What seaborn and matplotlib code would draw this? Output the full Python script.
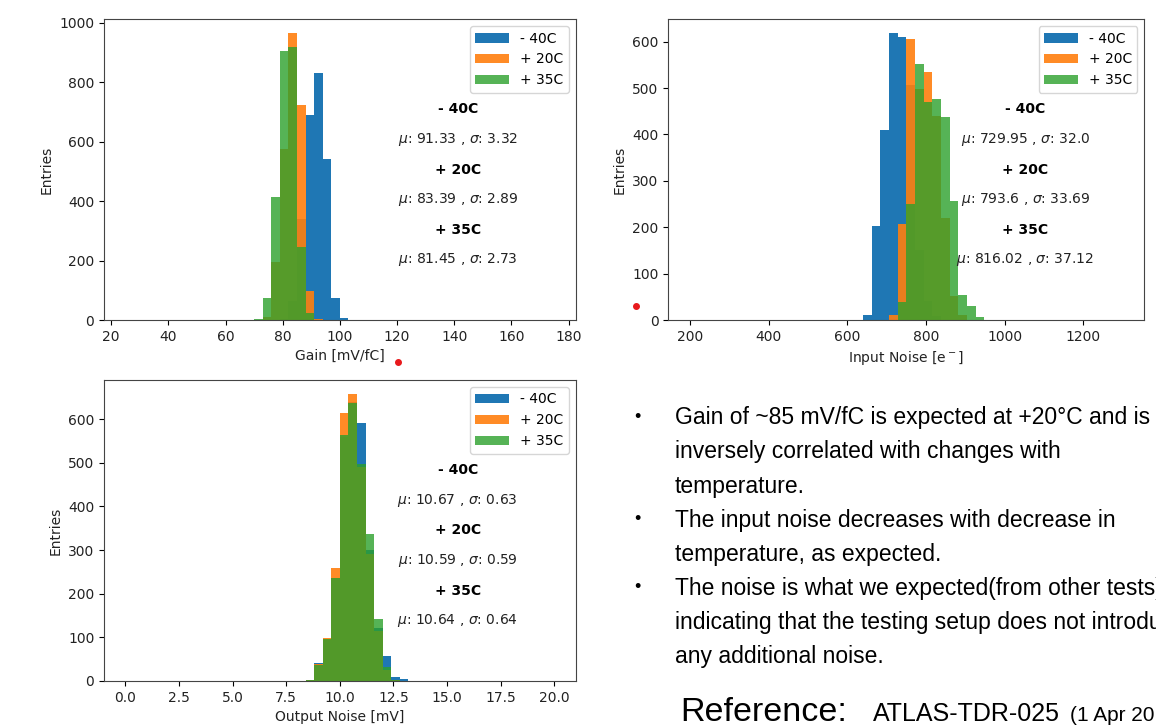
import numpy as np
import pandas as pd
import matplotlib
matplotlib.use("Agg")
import matplotlib.pyplot as plt
import seaborn as sns
from matplotlib.lines import Line2D

# ======================
# Histogram data (counts per bin)
# ======================
labels = ["- 40C", "+ 20C", "+ 35C"]
colors = ["#1f77b4", "#ff7f0e", "#2ca02c"]
alphas = [1.0, 0.9, 0.8]

# Gain [mV/fC]: 50 bins over 25..175 (width 3)
gain_range = (25, 175)
gain_m40_lo, gain_m40 = 79, [5, 65, 341, 689, 829, 542, 73, 8]
gain_p20_lo, gain_p20 = 73, [10, 195, 575, 964, 724, 97, 5]
gain_p35_lo, gain_p35 = 70, [5, 73, 413, 905, 918, 246, 22]
gain_stats = ["91.33 , $\\sigma$: 3.32", "83.39 , $\\sigma$: 2.89", "81.45 , $\\sigma$: 2.73"]

# Input noise [e-]: 50 bins over 200..1300 (width 22)
inn_range = (200, 1300)
inn_m40_lo, inn_m40 = 640, [11, 202, 409, 618, 611, 507, 150, 40, 8]
inn_p20_lo, inn_p20 = 706, [10, 207, 605, 497, 534, 440, 221, 51, 10]
inn_p35_lo, inn_p35 = 728, [39, 251, 552, 471, 477, 438, 257, 54, 30, 7]
inn_stats = ["729.95 , $\\sigma$: 32.0", "793.6 , $\\sigma$: 33.69", "816.02 , $\\sigma$: 37.12"]

# Output noise [mV]: 50 bins over 0..20 (width 0.4)
outn_range = (0, 20)
outn_m40_lo, outn_m40 = 8.4, [2, 42, 95, 235, 560, 640, 591, 300, 121, 57, 8, 4]
outn_p20_lo, outn_p20 = 8.4, [2, 40, 99, 259, 615, 657, 490, 290, 115, 25, 3]
outn_p35_lo, outn_p35 = 8.4, [3, 36, 96, 235, 563, 637, 497, 336, 141, 33, 3]
outn_stats = ["10.67 , $\\sigma$: 0.63", "10.59 , $\\sigma$: 0.59", "10.64 , $\\sigma$: 0.64"]

bullets = [
    ["Gain of ~85 mV/fC is expected at +20°C and is",
     "inversely correlated with changes with",
     "temperature."],
    ["The input noise decreases with decrease in",
     "temperature, as expected."],
    ["The noise is what we expected(from other tests),",
     "indicating that the testing setup does not introduce",
     "any additional noise."],
]

NBINS = 50
FS = 10


def draw_panel(ax, rng, series, stats, xlabel):
    edges = np.linspace(rng[0], rng[1], NBINS + 1)
    width = edges[1] - edges[0]
    for (lo, counts), lab, col, a in zip(series, labels, colors, alphas):
        centers = lo + width * (np.arange(len(counts)) + 0.5)
        df = pd.DataFrame({"x": centers, "n": counts})
        sns.histplot(data=df, x="x", weights="n", bins=edges.tolist(), ax=ax,
                     color=col, alpha=a, edgecolor="none", linewidth=0,
                     label=lab)
    ax.set_xlabel(xlabel, fontsize=FS, color="#222222")
    ax.set_ylabel("Entries", fontsize=FS, color="#222222")
    ax.tick_params(labelsize=FS, labelcolor="#222222")
    for sp in ax.spines.values():
        sp.set_color("#444444")
    ax.legend(loc="upper right", fontsize=FS, handlelength=2.4)
    y = 0.7
    for lab, st in zip(labels, stats):
        ax.text(0.75, y, lab, transform=ax.transAxes, ha="center", va="center",
                fontsize=FS, fontweight="bold")
        ax.text(0.75, y - 0.1, "$\\mu$: " + st, transform=ax.transAxes,
                ha="center", va="center", fontsize=FS, color="#222222")
        y -= 0.2


fig = plt.figure(figsize=(11.56, 7.28), dpi=100)
ax1 = fig.add_axes([0.090, 0.5604, 0.408, 0.4135])
ax2 = fig.add_axes([0.578, 0.5604, 0.412, 0.4135])
ax3 = fig.add_axes([0.090, 0.0646, 0.408, 0.4135])

draw_panel(ax1, gain_range,
           [(gain_m40_lo, gain_m40), (gain_p20_lo, gain_p20), (gain_p35_lo, gain_p35)],
           gain_stats, "Gain [mV/fC]")
draw_panel(ax2, inn_range,
           [(inn_m40_lo, inn_m40), (inn_p20_lo, inn_p20), (inn_p35_lo, inn_p35)],
           inn_stats, "Input Noise [e$^-$]")
draw_panel(ax3, outn_range,
           [(outn_m40_lo, outn_m40), (outn_p20_lo, outn_p20), (outn_p35_lo, outn_p35)],
           outn_stats, "Output Noise [mV]")

# red pointer dots on the slide
for fx, fy in [(398 / 1156, 1 - 362 / 728), (636 / 1156, 1 - 306 / 728)]:
    fig.add_artist(Line2D([fx], [fy], marker="o", color="#e8191c", markersize=4,
                          transform=fig.transFigure))

# ======================
# Slide text
# ======================
sans = ["Liberation Sans", "DejaVu Sans"]
line_h = 34 / 728
y = 1 - 418 / 728
for block in bullets:
    fig.text(637 / 1156, y, "•", fontsize=13, va="center", ha="center", family=sans)
    for line in block:
        fig.text(675 / 1156, y, line, fontsize=16.5, va="center", family=sans)
        y -= line_h

base = 1 - 721 / 728
fig.text(680 / 1156, base, "Reference:", fontsize=24.5, va="baseline", family=sans)
fig.text(873 / 1156, base, "ATLAS-TDR-025", fontsize=18, va="baseline", family=sans)
fig.text(1070 / 1156, base, "(1 Apr 2017)", fontsize=15, va="baseline", family=sans)

fig.savefig("out.png", dpi=100)
